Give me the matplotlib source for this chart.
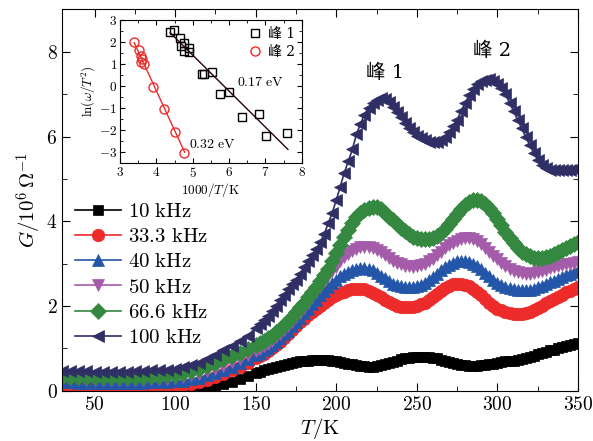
import matplotlib
matplotlib.use('Agg')
import matplotlib.pyplot as plt
from matplotlib.ticker import MultipleLocator, FuncFormatter

plt.rcParams['font.family'] = ['DejaVu Serif', 'Noto Sans CJK SC']
plt.rcParams['mathtext.fontset'] = 'cm'

# temperature (K): 5 K steps below 150 K, 2.5 K steps above
T = [30, 35, 40, 45, 50, 55, 60, 65, 70, 75, 80, 85, 90, 95, 100, 105, 110,
     115, 120, 125, 130, 135, 140, 145,
     150, 152.5, 155, 157.5, 160, 162.5, 165, 167.5, 170, 172.5,
     175, 177.5, 180, 182.5, 185, 187.5, 190, 192.5, 195, 197.5,
     200, 202.5, 205, 207.5, 210, 212.5, 215, 217.5, 220, 222.5,
     225, 227.5, 230, 232.5, 235, 237.5, 240, 242.5, 245, 247.5,
     250, 252.5, 255, 257.5, 260, 262.5, 265, 267.5, 270, 272.5,
     275, 277.5, 280, 282.5, 285, 287.5, 290, 292.5, 295, 297.5,
     300, 302.5, 305, 307.5, 310, 312.5, 315, 317.5, 320, 322.5,
     325, 327.5, 330, 332.5, 335, 337.5, 340, 342.5, 345, 347.5, 350]

# conductance G (10^6 Ohm^-1)
g_10k = [0.02, 0.02, 0.02, 0.02, 0.02, 0.02, 0.02, 0.02, 0.02, 0.02, 0.02, 0.02,
         0.02, 0.02, 0.03, 0.04, 0.05, 0.06, 0.08, 0.12, 0.16, 0.21, 0.27, 0.34,
         0.41, 0.45, 0.48, 0.51, 0.54, 0.57, 0.59, 0.61, 0.63, 0.65,
         0.67, 0.69, 0.70, 0.71, 0.72, 0.73, 0.73, 0.73, 0.72, 0.71,
         0.70, 0.68, 0.66, 0.64, 0.62, 0.60, 0.59, 0.58, 0.57, 0.57,
         0.58, 0.60, 0.62, 0.65, 0.68, 0.71, 0.74, 0.76, 0.78, 0.79,
         0.80, 0.80, 0.80, 0.79, 0.78, 0.76, 0.73, 0.70, 0.68, 0.65,
         0.63, 0.61, 0.60, 0.59, 0.59, 0.59, 0.60, 0.61, 0.63, 0.64,
         0.66, 0.67, 0.69, 0.70, 0.71, 0.72, 0.74, 0.77, 0.80, 0.83,
         0.86, 0.89, 0.92, 0.95, 0.97, 1.00, 1.02, 1.05, 1.07, 1.10, 1.12]
g_33k = [0.10, 0.09, 0.09, 0.08, 0.08, 0.08, 0.08, 0.08, 0.08, 0.08, 0.08, 0.08,
         0.09, 0.10, 0.11, 0.13, 0.16, 0.20, 0.26, 0.33, 0.40, 0.48, 0.57, 0.66,
         0.76, 0.81, 0.87, 0.93, 1.00, 1.08, 1.16, 1.25, 1.34, 1.44,
         1.53, 1.62, 1.70, 1.78, 1.86, 1.93, 2.00, 2.07, 2.14, 2.20,
         2.25, 2.30, 2.34, 2.37, 2.40, 2.41, 2.41, 2.39, 2.36, 2.31,
         2.26, 2.20, 2.14, 2.09, 2.04, 2.00, 1.98, 1.97, 1.97, 1.98,
         2.00, 2.04, 2.08, 2.14, 2.20, 2.28, 2.35, 2.42, 2.47, 2.51,
         2.53, 2.52, 2.50, 2.46, 2.40, 2.33, 2.25, 2.16, 2.08, 2.00,
         1.94, 1.90, 1.86, 1.84, 1.82, 1.81, 1.82, 1.84, 1.86, 1.90,
         1.95, 2.00, 2.06, 2.12, 2.17, 2.22, 2.27, 2.32, 2.36, 2.41, 2.45]
g_40k = [0.20, 0.20, 0.19, 0.19, 0.19, 0.19, 0.19, 0.19, 0.19, 0.19, 0.19, 0.20,
         0.20, 0.21, 0.22, 0.24, 0.27, 0.31, 0.36, 0.42, 0.49, 0.57, 0.65, 0.74,
         0.84, 0.89, 0.95, 1.01, 1.08, 1.16, 1.24, 1.33, 1.42, 1.52,
         1.62, 1.72, 1.83, 1.93, 2.04, 2.15, 2.25, 2.35, 2.45, 2.54,
         2.62, 2.70, 2.76, 2.81, 2.85, 2.88, 2.90, 2.90, 2.88, 2.84,
         2.78, 2.71, 2.65, 2.59, 2.53, 2.49, 2.46, 2.44, 2.44, 2.44,
         2.46, 2.50, 2.55, 2.61, 2.68, 2.76, 2.84, 2.91, 2.97, 3.02,
         3.05, 3.07, 3.07, 3.04, 3.00, 2.94, 2.87, 2.78, 2.70, 2.62,
         2.55, 2.50, 2.45, 2.42, 2.39, 2.38, 2.37, 2.37, 2.38, 2.41,
         2.44, 2.48, 2.52, 2.56, 2.60, 2.64, 2.68, 2.72, 2.76, 2.80, 2.84]
g_50k = [0.28, 0.27, 0.27, 0.26, 0.26, 0.26, 0.26, 0.26, 0.26, 0.26, 0.26, 0.27,
         0.27, 0.28, 0.30, 0.32, 0.36, 0.40, 0.46, 0.52, 0.59, 0.67, 0.75, 0.84,
         0.94, 0.99, 1.05, 1.11, 1.18, 1.26, 1.34, 1.43, 1.52, 1.62,
         1.73, 1.84, 1.95, 2.07, 2.20, 2.32, 2.45, 2.58, 2.70, 2.82,
         2.93, 3.05, 3.15, 3.23, 3.30, 3.35, 3.39, 3.40, 3.40, 3.37,
         3.33, 3.27, 3.20, 3.13, 3.07, 3.02, 2.98, 2.95, 2.94, 2.93,
         2.94, 2.96, 3.00, 3.05, 3.12, 3.20, 3.28, 3.36, 3.43, 3.49,
         3.54, 3.58, 3.60, 3.60, 3.58, 3.53, 3.46, 3.37, 3.28, 3.19,
         3.10, 3.02, 2.94, 2.88, 2.83, 2.80, 2.77, 2.76, 2.76, 2.78,
         2.80, 2.83, 2.86, 2.89, 2.92, 2.95, 2.97, 2.99, 3.00, 3.02, 3.03]
g_66k = [0.33, 0.33, 0.32, 0.32, 0.32, 0.32, 0.32, 0.32, 0.32, 0.33, 0.33, 0.34,
         0.35, 0.36, 0.38, 0.41, 0.46, 0.52, 0.58, 0.66, 0.74, 0.82, 0.90, 0.99,
         1.08, 1.13, 1.18, 1.24, 1.30, 1.38, 1.46, 1.55, 1.64, 1.75,
         1.86, 1.97, 2.08, 2.20, 2.32, 2.45, 2.58, 2.72, 2.88, 3.06,
         3.25, 3.44, 3.62, 3.80, 3.95, 4.09, 4.20, 4.27, 4.32, 4.34,
         4.33, 4.28, 4.20, 4.11, 4.02, 3.93, 3.85, 3.77, 3.70, 3.64,
         3.60, 3.58, 3.57, 3.58, 3.60, 3.65, 3.72, 3.82, 3.93, 4.05,
         4.17, 4.28, 4.38, 4.45, 4.50, 4.51, 4.48, 4.41, 4.32, 4.19,
         4.05, 3.90, 3.75, 3.61, 3.48, 3.37, 3.28, 3.22, 3.17, 3.14,
         3.13, 3.13, 3.15, 3.18, 3.22, 3.27, 3.32, 3.37, 3.42, 3.46, 3.50]
g_100k = [0.47, 0.47, 0.46, 0.46, 0.45, 0.45, 0.45, 0.45, 0.45, 0.46, 0.47, 0.48,
          0.49, 0.50, 0.52, 0.55, 0.60, 0.66, 0.75, 0.85, 0.95, 1.06, 1.17, 1.30,
          1.48, 1.57, 1.66, 1.77, 1.88, 2.00, 2.13, 2.26, 2.40, 2.51,
          2.62, 2.76, 2.92, 3.06, 3.20, 3.34, 3.50, 3.70, 3.95, 4.20,
          4.50, 4.82, 5.15, 5.42, 5.70, 6.05, 6.30, 6.52, 6.68, 6.80,
          6.87, 6.90, 6.89, 6.82, 6.70, 6.57, 6.45, 6.32, 6.20, 6.10,
          6.02, 5.96, 5.92, 5.88, 5.87, 5.88, 5.92, 5.99, 6.10, 6.24,
          6.40, 6.60, 6.80, 6.97, 7.12, 7.23, 7.30, 7.34, 7.35, 7.31,
          7.25, 7.14, 7.00, 6.80, 6.60, 6.40, 6.20, 6.00, 5.80, 5.62,
          5.45, 5.33, 5.25, 5.22, 5.20, 5.20, 5.20, 5.21, 5.22, 5.24, 5.25]

labels = ['10 kHz', '33.3 kHz', '40 kHz', '50 kHz', '66.6 kHz', '100 kHz']
colors = ['#000000', '#ED2B2B', '#2356A8', '#A45CAA', '#34883F', '#2F2F66']
markers = ['s', 'o', '^', 'v', 'D', '<']
sizes = [7.5, 9, 9, 9, 8, 9]
series = [g_10k, g_33k, g_40k, g_50k, g_66k, g_100k]

# inset: Arrhenius plot
x_p1 = [4.38, 4.49, 4.64, 4.77, 4.68, 4.75, 4.89, 4.91, 5.26, 5.32, 5.52,
        5.75, 6.00, 6.37, 6.82, 7.03, 7.60]
y_p1 = [2.47, 2.54, 2.19, 1.96, 1.81, 1.58, 1.73, 1.55, 0.56, 0.54, 0.62,
        -0.37, -0.28, -1.40, -1.27, -2.28, -2.13]
x_p2 = [3.39, 3.52, 3.57, 3.60, 3.58, 3.65, 3.90, 4.20, 4.52, 4.77]
y_p2 = [1.99, 1.66, 1.38, 1.23, 1.09, 1.02, -0.05, -1.02, -2.08, -3.03]
fit1_x = [4.38, 7.62]
fit1_y = [2.42, -2.87]
fit2_x = [3.39, 4.78]
fit2_y = [1.97, -3.00]

fig = plt.figure(figsize=(5.93, 4.41), dpi=100)
ax = fig.add_axes([0.1051, 0.1141, 0.8696, 0.8644])

for g, lab, c, m, s in zip(series, labels, colors, markers, sizes):
    ax.plot(T, g, color=c, marker=m, markersize=s, markeredgecolor=c,
            markeredgewidth=0.5, linewidth=1.2,
            label=r'$\mathrm{%s}$' % lab.replace(' ', r'\ '))

ax.set_xlim(30, 350)
ax.set_ylim(0, 9)
ax.xaxis.set_major_locator(MultipleLocator(50))
ax.xaxis.set_minor_locator(MultipleLocator(25))
ax.yaxis.set_major_locator(MultipleLocator(2))
ax.yaxis.set_minor_locator(MultipleLocator(1))
fmt = FuncFormatter(lambda v, p: r'$\mathrm{%g}$' % v)
ax.xaxis.set_major_formatter(fmt)
ax.yaxis.set_major_formatter(fmt)
ax.tick_params(which='both', direction='in', top=True, right=True, labelsize=14)
ax.tick_params(which='major', length=6)
ax.tick_params(which='minor', length=3.5)
ax.set_xlabel(r'$T/\mathrm{K}$', fontsize=15, labelpad=2)
ax.set_ylabel(r'$G/10^6\,\Omega^{-1}$', fontsize=15, labelpad=2)

ax.legend(loc='upper left', bbox_to_anchor=(0.025, 0.495), frameon=False,
          fontsize=15, handlelength=2.2, handletextpad=0.35, labelspacing=0.3,
          borderpad=0, borderaxespad=0)

ax.text(230, 7.5, '峰 1', fontsize=14, ha='center', va='center')
ax.text(296.5, 8.02, '峰 2', fontsize=14, ha='center', va='center')

# inset
ins = fig.add_axes([0.2024, 0.6297, 0.3064, 0.325])
ins.plot(x_p1, y_p1, 's', markersize=6, markerfacecolor='none',
         markeredgecolor='black', markeredgewidth=1.0, label='峰 1')
ins.plot(x_p2, y_p2, 'o', markersize=6.5, markerfacecolor='none',
         markeredgecolor='#ED2B2B', markeredgewidth=1.0, label='峰 2')
ins.plot(fit1_x, fit1_y, color='#2a0505', linewidth=1.0)
ins.plot(fit2_x, fit2_y, color='#ED2B2B', linewidth=1.0)
ins.text(6.23, 0.2, r'$\mathrm{0.17\ eV}$', fontsize=10, va='center')
ins.text(4.9, -2.62, r'$\mathrm{0.32\ eV}$', fontsize=10, va='center')
ins.set_xlim(3, 8)
ins.set_ylim(-3.5, 3)
ins.xaxis.set_major_locator(MultipleLocator(1))
ins.xaxis.set_minor_locator(MultipleLocator(0.5))
ins.yaxis.set_major_locator(MultipleLocator(1))
ins.yaxis.set_minor_locator(MultipleLocator(0.5))
ins.xaxis.set_major_formatter(fmt)
ins.yaxis.set_major_formatter(fmt)
ins.tick_params(which='both', direction='in', top=True, right=True, labelsize=9.5, pad=2)
ins.tick_params(which='major', length=3.5)
ins.tick_params(which='minor', length=2)
ins.set_xlabel(r'$1000/T/\mathrm{K}$', fontsize=9.5, labelpad=1)
ins.set_ylabel(r'$\ln(\omega/T^2)$', fontsize=9.5, labelpad=1)
ins.legend(loc='upper right', frameon=False, fontsize=10, handlelength=1,
           handletextpad=0.4, labelspacing=0.3, borderpad=0.3, borderaxespad=0.2)

fig.savefig('out.png', dpi=100)
